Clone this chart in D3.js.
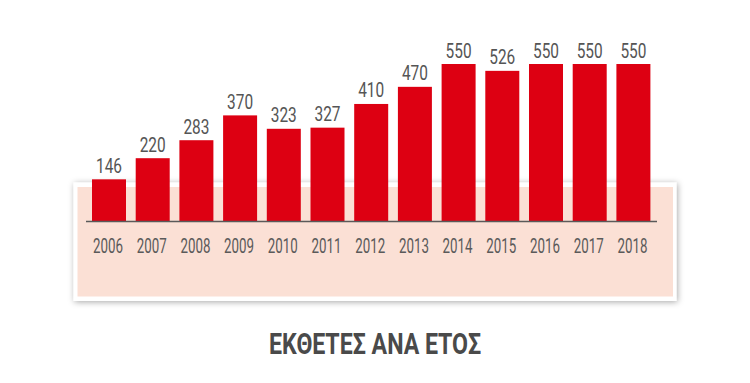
<!DOCTYPE html>
<html>
<head>
<meta charset="utf-8">
<script src="https://cdn.jsdelivr.net/npm/d3@7"></script>
<style>
  html, body { margin: 0; padding: 0; background: #ffffff; }
  svg { display: block; }
</style>
</head>
<body>
<svg id="chart" width="750" height="383"></svg>
<script>
const years = ["2006","2007","2008","2009","2010","2011","2012","2013","2014","2015","2016","2017","2018"];
const exhibitors = [146, 220, 283, 370, 323, 327, 410, 470, 550, 526, 550, 550, 550];
const title = "ΕΚΘΕΤΕΣ ΑΝΑ ΕΤΟΣ";

const svg = d3.select("#chart");

const defs = svg.append("defs");
const f = defs.append("filter").attr("id", "shadow")
  .attr("x", "-5%").attr("y", "-20%").attr("width", "110%").attr("height", "140%");
f.append("feDropShadow").attr("dx", 1).attr("dy", 1).attr("stdDeviation", 3)
  .attr("flood-color", "#000").attr("flood-opacity", 0.35);

// card panel
svg.append("rect").attr("x", 73.5).attr("y", 182.5).attr("width", 603).attr("height", 118.5)
  .attr("fill", "#ffffff").attr("filter", "url(#shadow)");
svg.append("rect").attr("x", 77.5).attr("y", 187).attr("width", 595.5).attr("height", 109.5)
  .attr("fill", "#fbe0d5");

const x = d3.scaleBand().domain(years).range([87.15, 655.25])
  .paddingInner(0.222).paddingOuter(0.111);
const y = d3.scaleLinear().domain([0, 550]).range([221, 64]);

const data = years.map((yr, i) => ({ year: yr, value: exhibitors[i] }));

svg.append("g").selectAll("rect").data(data).join("rect")
  .attr("x", d => x(d.year))
  .attr("y", d => y(d.value))
  .attr("width", x.bandwidth())
  .attr("height", d => y(0) - y(d.value))
  .attr("fill", "#dd0012");

// baseline
svg.append("line").attr("x1", 86).attr("x2", 657).attr("y1", y(0) + 0.5).attr("y2", y(0) + 0.5)
  .attr("stroke", "#5a5a5a").attr("stroke-width", 1.6);

const fontFam = "Roboto, 'DejaVu Sans', sans-serif";

// value labels
svg.append("g").selectAll("text").data(data).join("text")
  .attr("x", d => x(d.year) + x.bandwidth() / 2)
  .attr("y", d => y(d.value) - 6.5)
  .attr("text-anchor", "middle")
  .attr("font-family", fontFam)
  .attr("font-size", 21)
  .attr("textLength", 26)
  .attr("lengthAdjust", "spacingAndGlyphs")
  .attr("fill", "#555555")
  .text(d => d.value);

// year labels
svg.append("g").selectAll("text").data(data).join("text")
  .attr("x", d => x(d.year) + x.bandwidth() / 2 - 1)
  .attr("y", 253)
  .attr("text-anchor", "middle")
  .attr("font-family", fontFam)
  .attr("font-size", 20.5)
  .attr("textLength", 30)
  .attr("lengthAdjust", "spacingAndGlyphs")
  .attr("fill", "#5a5a5a")
  .text(d => d.year);

// title
svg.append("text")
  .attr("x", 375).attr("y", 354)
  .attr("text-anchor", "middle")
  .attr("font-family", fontFam)
  .attr("font-weight", "bold")
  .attr("font-size", 29)
  .attr("textLength", 212)
  .attr("lengthAdjust", "spacingAndGlyphs")
  .attr("fill", "#4a4a4a")
  .text(title);
</script>
</body>
</html>
